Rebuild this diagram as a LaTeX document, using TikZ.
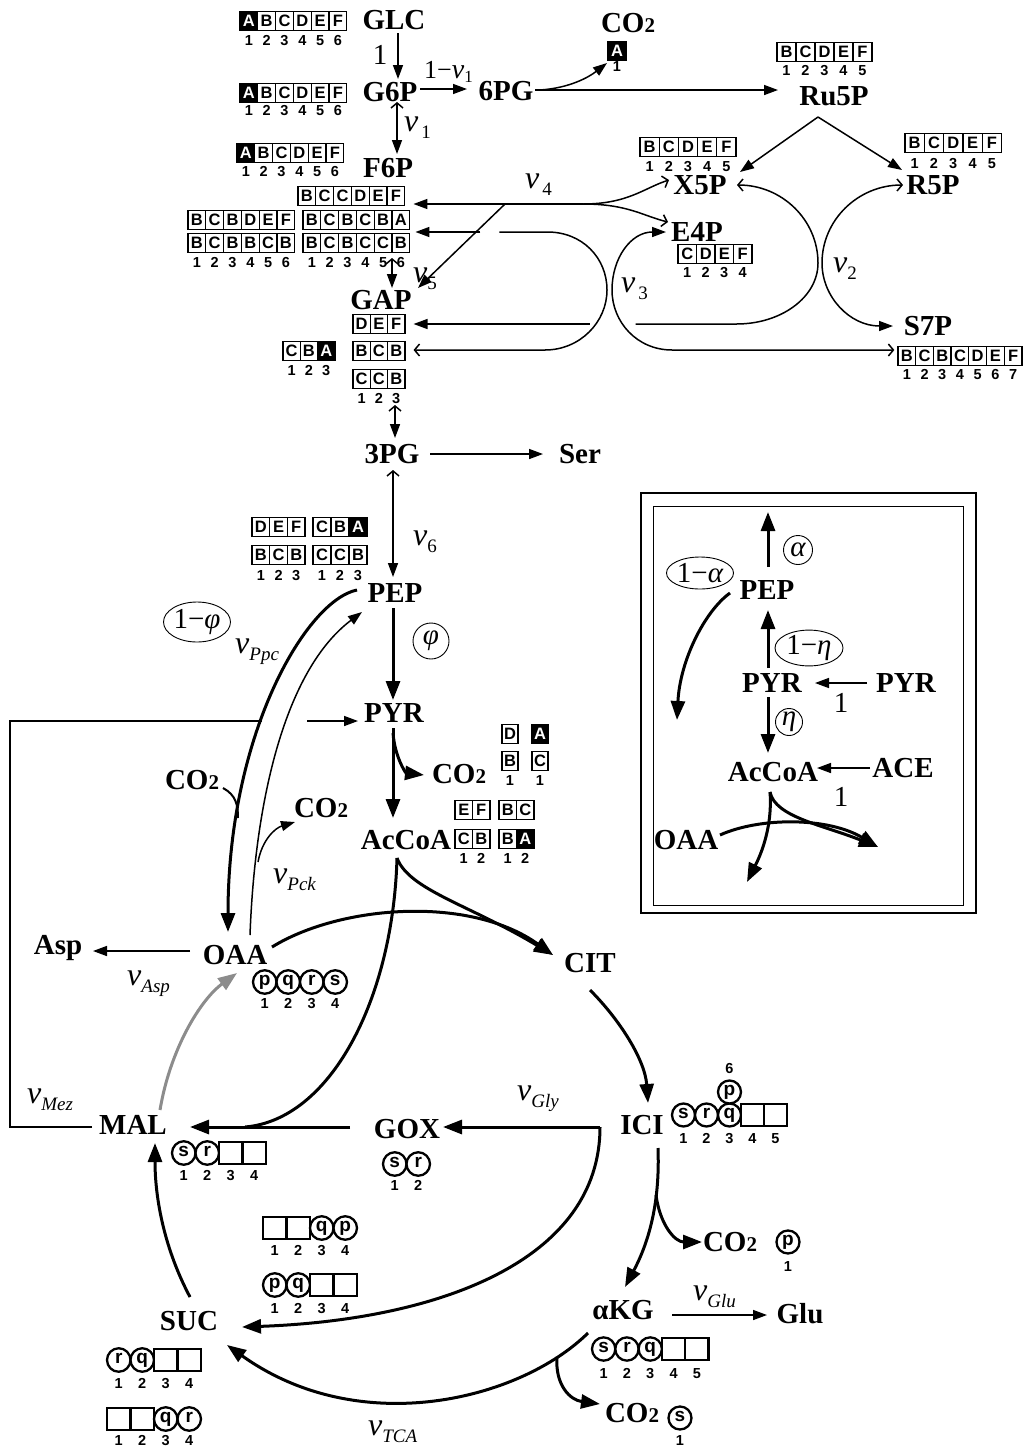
\documentclass[tikz,border=0pt]{standalone}
\usepackage{fontspec}
\setmainfont{Liberation Serif}
\setsansfont{Liberation Sans}
\usetikzlibrary{arrows.meta,shapes.geometric,calc}
\definecolor{mygray}{RGB}{140,140,140}
\newcommand\metf{\fontsize{29}{29}\selectfont\bfseries}
\newcommand\cellf{\fontsize{16.5}{16.5}\selectfont\sffamily\bfseries}
\newcommand\numf{\fontsize{14.5}{14.5}\selectfont\sffamily\bfseries}
\newcommand\circf{\fontsize{19}{19}\selectfont\sffamily\bfseries}
\newcommand\labf{\fontsize{29}{29}\selectfont}
\newcommand\vlab[1]{{\fontsize{32}{32}\selectfont\itshape v}{\fontsize{19}{19}\selectfont\raisebox{-7pt}{#1}}}
\newcommand\vlabs[1]{{\fontsize{28}{28}\selectfont\itshape v}{\fontsize{17}{17}\selectfont\raisebox{-4pt}{#1}}}
\newcommand\cotwo{CO{\fontsize{21}{21}\selectfont 2}}
\newcommand\cellrow[5]{\foreach \ty/\lb [count=\i] in {#5}{\edef\tmp{\noexpand\node[c\ty,minimum width=#4pt] (#1-\i) at ({#2+(\i-0.5)*#4},#3)}\tmp{\lb};}}
\newcommand\numrow[5]{\foreach \lb [count=\i] in {#5}{\node[num] (#1-n\i) at ({#2+(\i-0.5)*#4},#3) {\lb};}}
\begin{document}
\begin{tikzpicture}[x=1pt,y=-1pt,
  met/.style={font=\metf,inner sep=0pt},
  lab/.style={font=\labf,inner sep=0pt},
  vl/.style={inner sep=0pt,anchor=base west},
  num/.style={font=\numf,inner sep=0pt,text height=10.4pt,text depth=0pt},
  cw/.style={draw,line width=1.3pt,minimum height=18.5pt,inner sep=0pt,font=\cellf,fill=white,text height=11.8pt,text depth=0pt},
  ck/.style={cw,fill=black,text=white},
  cc/.style={draw,circle,line width=2.3pt,minimum height=21pt,inner sep=0pt,font=\circf,fill=white,text height=10pt,text depth=4pt},
  ce/.style={draw,line width=2.3pt,minimum height=22pt,inner sep=0pt,fill=white},
  ln/.style={line width=1.5pt},
  tk/.style={line width=3pt},
  fa/.style={-{Triangle[length=14pt,width=10pt]}},
  fA/.style={-{Triangle[length=19pt,width=14pt]}},
  oa/.style={-{Straight Barb[length=5pt,width=12pt]}},
  ofa/.style={{Straight Barb[length=5pt,width=12pt]}-{Triangle[length=14pt,width=10pt]}},
  greek/.style={font=\fontsize{29}{29}\selectfont\itshape,draw,line width=0.9pt,inner sep=0pt},
]
\fill[white] (0,0) rectangle (1026,1446);
\useasboundingbox (0,0) rectangle (1026,1446);

% ---------- metabolites
\node[met] (GLC) at (394,20) {GLC};
\node[met] (G6P) at (390,92) {G6P};
\node[met] (n6PG) at (506,91) {6PG};
\node[met] (F6P) at (388,168) {F6P};
\node[met] (CO2t) at (628,23) {\cotwo};
\node[met] (Ru5P) at (834,96) {Ru5P};
\node[met] (X5P) at (700,185) {X5P};
\node[met] (R5P) at (933,185) {R5P};
\node[met] (E4P) at (697,232) {E4P};
\node[met] (S7P) at (928,326) {S7P};
\node[met] (GAP) at (381,300) {GAP};
\node[met] (n3PG) at (392,454) {3PG};
\node[met] (Ser) at (580,454) {Ser};
\node[met] (PEP) at (395,593) {PEP};
\node[met] (PYR) at (394,713) {PYR};
\node[met] (CO2p) at (459,774) {\cotwo};
\node[met] (AcCoA) at (406,840) {AcCoA};
\node[met] (CO2l) at (192,780) {\cotwo};
\node[met] (CO2r) at (321,808) {\cotwo};
\node[met] (OAA) at (235,955) {OAA};
\node[met] (Asp) at (58,948) {Asp};
\node[met] (CIT) at (590,963) {CIT};
\node[met] (MAL) at (133,1125) {MAL};
\node[met] (GOX) at (407,1129) {GOX};
\node[met] (ICI) at (642,1125) {ICI};
\node[met] (CO2i) at (730,1242) {\cotwo};
\node[met] (aKG) at (623,1310) {αKG};
\node[met] (Glu) at (800,1314) {Glu};
\node[met] (CO2k) at (632,1413) {\cotwo};
\node[met] (SUC) at (189,1321) {SUC};

% inset
\draw[line width=1.6pt] (641,493) rectangle (976,913);
\draw[line width=1pt] (653,506) rectangle (963,905);
\node[met] (iPEP) at (767,590) {PEP};
\node[met] (iPYR) at (772,683) {PYR};
\node[met] (iPYR2) at (906,683) {PYR};
\node[met] (iAcCoA) at (773,772) {AcCoA};
\node[met] (iACE) at (903,768) {ACE};
\node[met] (iOAA) at (686,840) {OAA};

% ---------- carbon labels
\cellrow{rGLC}{240}{21}{17.8}{k/A,w/B,w/C,w/D,w/E,w/F}
\numrow{rGLC}{240}{40}{17.8}{1,2,3,4,5,6}
\cellrow{rG6P}{240}{93}{17.8}{k/A,w/B,w/C,w/D,w/E,w/F}
\numrow{rG6P}{240}{110}{17.8}{1,2,3,4,5,6}
\cellrow{rF6P}{237}{153}{17.8}{k/A,w/B,w/C,w/D,w/E,w/F}
\numrow{rF6P}{237}{171}{17.8}{1,2,3,4,5,6}
\cellrow{rA}{298}{196}{17.8}{w/B,w/C,w/C,w/D,w/E,w/F}
\cellrow{rB1}{188}{220}{17.8}{w/B,w/C,w/B,w/D,w/E,w/F}
\cellrow{rB2}{303}{220}{17.8}{w/B,w/C,w/B,w/C,w/B,w/A}
\cellrow{rC1}{188}{243}{17.8}{w/B,w/C,w/B,w/B,w/C,w/B}
\cellrow{rC2}{303}{243}{17.8}{w/B,w/C,w/B,w/C,w/C,w/B}
\numrow{rC1}{188}{262}{17.8}{1,2,3,4,5,6}
\numrow{rC2}{303}{262}{17.8}{1,2,3,4,5,6}
\cellrow{rCO}{608}{51}{18}{k/A}
\numrow{rCO}{608}{66}{18}{1}
\cellrow{rRu}{777}{52}{19}{w/B,w/C,w/D,w/E,w/F}
\numrow{rRu}{777}{70}{19}{1,2,3,4,5}
\cellrow{rX}{640}{147}{19.2}{w/B,w/C,w/D,w/E,w/F}
\numrow{rX}{640}{166}{19.2}{1,2,3,4,5}
\cellrow{rR}{905}{143}{19.3}{w/B,w/C,w/D,w/E,w/F}
\numrow{rR}{905}{163}{19.3}{1,2,3,4,5}
\cellrow{rE}{678}{254}{18.5}{w/C,w/D,w/E,w/F}
\numrow{rE}{678}{272}{18.5}{1,2,3,4}
\cellrow{rS}{898}{356}{17.7}{w/B,w/C,w/B,w/C,w/D,w/E,w/F}
\numrow{rS}{898}{374}{17.7}{1,2,3,4,5,6,7}
\cellrow{rG1}{353}{324}{17.3}{w/D,w/E,w/F}
\cellrow{rG2}{353}{351}{17.3}{w/B,w/C,w/B}
\cellrow{rG3}{353}{379}{17.3}{w/C,w/C,w/B}
\numrow{rG3}{353}{398}{17.3}{1,2,3}
\cellrow{rG4}{283}{351}{17.3}{w/C,w/B,k/A}
\numrow{rG4}{283}{370}{17.3}{1,2,3}
\cellrow{rP1}{252}{527}{17.7}{w/D,w/E,w/F}
\cellrow{rP2}{313}{527}{18}{w/C,w/B,k/A}
\cellrow{rP3}{252}{555}{17.7}{w/B,w/C,w/B}
\cellrow{rP4}{313}{555}{18}{w/C,w/C,w/B}
\numrow{rP3}{252}{575}{17.7}{1,2,3}
\numrow{rP4}{313}{575}{18}{1,2,3}
\cellrow{rY1}{502}{734}{16}{w/D}
\cellrow{rY2}{532}{734}{16}{k/A}
\cellrow{rY3}{502}{761}{16}{w/B}
\cellrow{rY4}{532}{761}{16}{w/C}
\numrow{rY3}{502}{780}{16}{1}
\numrow{rY4}{532}{780}{16}{1}
\cellrow{rAc1}{455}{810}{17.5}{w/E,w/F}
\cellrow{rAc2}{499}{810}{17.5}{w/B,w/C}
\cellrow{rAc3}{455}{839}{17.5}{w/C,w/B}
\cellrow{rAc4}{499}{839}{17.5}{w/B,k/A}
\numrow{rAc3}{455}{858}{17.5}{1,2}
\numrow{rAc4}{499}{858}{17.5}{1,2}
% TCA labels
\cellrow{rO}{253}{982}{23.5}{c/p,c/q,c/r,c/s}
\numrow{rO}{253}{1003}{23.5}{1,2,3,4}
\cellrow{rM}{172}{1153}{23.5}{c/s,c/r,e/{},e/{}}
\numrow{rM}{172}{1175}{23.5}{1,2,3,4}
\cellrow{rGx}{383}{1164}{23.5}{c/s,c/r}
\numrow{rGx}{383}{1185}{23.5}{1,2}
\cellrow{rI}{672}{1115}{23}{c/s,c/r,c/q,e/{},e/{}}
\numrow{rI}{672}{1138}{23}{1,2,3,4,5}
\node[cc,minimum width=23pt] (rIp) at ($(rI-3)+(0,-23)$) {p};
\node[num] (rI6) at ($(rI-3)+(0,-47)$) {6};
\node[cc,minimum width=23pt] (cip) at ($(CO2i)+(58,0)$) {p};
\node[num] (cip1) at ($(CO2i)+(58,24)$) {1};
\cellrow{rK}{592}{1349}{23.3}{c/s,c/r,c/q,e/{},e/{}}
\numrow{rK}{592}{1373}{23.3}{1,2,3,4,5}
\node[cc,minimum width=23pt] (cks) at ($(CO2k)+(48,5)$) {s};
\node[num] (cks1) at ($(CO2k)+(48,27)$) {1};
\cellrow{rS1}{263}{1228}{23.5}{e/{},e/{},c/q,c/p}
\numrow{rS1}{263}{1250}{23.5}{1,2,3,4}
\cellrow{rS2}{263}{1285}{23.5}{c/p,c/q,e/{},e/{}}
\numrow{rS2}{263}{1308}{23.5}{1,2,3,4}
\cellrow{rU1}{107}{1360}{23.5}{c/r,c/q,e/{},e/{}}
\numrow{rU1}{107}{1383}{23.5}{1,2,3,4}
\cellrow{rU2}{107}{1419}{23.5}{e/{},e/{},c/q,c/r}
\numrow{rU2}{107}{1440}{23.5}{1,2,3,4}

% ---------- junctions
\coordinate (v4j) at ($(X5P)+(-117,19)$);
\coordinate (v4d) at ($(X5P)+(-195,19)$);
\coordinate (acj) at ($(AcCoA)+(-9,18)$);
\coordinate (icij) at ($(ICI)+(-42,2)$);
\coordinate (iacj) at ($(iAcCoA)+(-3,20)$);

% ---------- upper pathway
\draw[ln,fa] ($(GLC)+(4,13)$) -- ($(G6P)+(8,-13)$);
\draw[ln,fa] ($(G6P)+(30,-3)$) -- ($(n6PG)+(-39,-2)$);
\draw[ln,fa] ($(n6PG)+(29,-1)$) -- ($(Ru5P)+(-56,-6)$);
\draw[ln,fa] ($(n6PG)+(34,-1)$) .. controls +(30,-2) and +(-18,14) .. ($(rCO-1)+(-10,12)$);
\draw[ln,ofa] ($(G6P)+(7,10)$) -- ($(F6P)+(9,-14)$);
\draw[ln,fa] ($(Ru5P)+(-16,21)$) -- ($(X5P)+(40,-13)$);
\draw[ln,fa] ($(Ru5P)+(-16,21)$) -- ($(R5P)+(-31,-15)$);
\draw[ln,fa] (v4j) -- ($(rA-6.east)+(8,8)$);
\draw[ln,oa] (v4j) .. controls +(45,0) and +(-25,8) .. ($(X5P)+(-31,-5)$);
\draw[ln,oa] (v4j) .. controls +(45,0) and +(-25,-6) .. ($(E4P)+(-29,-10)$);
\draw[ln,fa] (v4d) -- ($(GAP)+(37,-12)$);
\draw[ln,fa] ($(rB2-6.east)+(70,12)$) -- ($(rB2-6.east)+(5,12)$);
\draw[ln,fa] ($(rG1-3.east)+(184,0)$) -- ($(rG1-3.east)+(8,0)$);
\draw[ln,oa] ($(rG1-3.east)+(230,0)$) -- ++(101,0) .. controls +(45,0) and +(0,34) .. (818,263) .. controls +(0,-43) and +(45,0) .. ($(X5P)+(37,0)$);
\draw[ln,ofa] ($(R5P)+(-30,0)$) .. controls +(-45,0) and +(0,-43) .. (822,263) .. controls +(0,34) and +(-43,0) .. ($(S7P)+(-35,0)$);
\draw[ln,oa] ($(rB2-6.east)+(89,12)$) -- ++(48,0) .. controls +(35,0) and +(0,-32) .. (607,290) .. controls +(0,32) and +(35,0) .. (545,350) -- ($(rG2-3.east)+(8,-1)$);
\draw[ln,ofa] ($(rS-1.west)+(-3,-6)$) -- (672,350) .. controls +(-35,0) and +(0,32) .. (612,290) .. controls +(0,-32) and +(-35,0) .. ($(E4P)+(-31,0)$);
\draw[ln,ofa] ($(GAP)+(11,-42)$) -- ($(GAP)+(11,-12)$);
\draw[ln,ofa] ($(n3PG)+(3,-49)$) -- ($(n3PG)+(3,-16)$);
\draw[ln,fa] ($(n3PG)+(38,0)$) -- ($(Ser)+(-37,0)$);
\draw[ln,ofa] ($(n3PG)+(1,16)$) -- ($(PEP)+(-2,-16)$);

% ---------- lower pathway
\draw[tk,fA] ($(PEP)+(-2,15)$) -- ($(PYR)+(-1,-13)$);
\draw[tk,fA] ($(PYR)+(-1,15)$) -- ($(AcCoA)+(-13,-22)$);
\draw[tk,fA] ($(PYR)+(-1,20)$) .. controls +(2,25) and +(-18,-2) .. ($(CO2p)+(-35,1)$);
\draw[ln] ($(MAL)+(-41,2)$) -- ++(-82,0) |- ($(PYR)+(-132,8)$);
\draw[ln,fa] ($(PYR)+(-87,8)$) -- ($(PYR)+(-36,8)$);
\draw[tk,fA] ($(PEP)+(-38,-3)$) .. controls +(-50,10) and +(0,-200) .. ($(OAA)+(-7,-23)$);
\draw[line width=2pt] ($(CO2l)+(31,8)$) .. controls +(13,7) and +(0,-13) .. ($(CO2l)+(46,38)$);
\draw[ln,fa] ($(OAA)+(15,-20)$) .. controls +(5,-135) and +(-77,58) .. ($(PEP)+(-33,19)$);
\draw[ln,fa] ($(OAA)+(23,-93)$) .. controls +(4,-22) and +(-20,6) .. ($(CO2r)+(-26,14)$);
\draw[ln,fa] ($(OAA)+(-45,-4)$) -- ($(Asp)+(35,3)$);
\draw[tk,fA] ($(GOX)+(-57,-2)$) -- ($(MAL)+(57,2)$);
\draw[tk] (acj) .. controls +(-4,142) and +(85,-7) .. ($(MAL)+(112,2)$);
\draw[tk,fA] ($(OAA)+(37,-8)$) .. controls +(68,-42) and +(-83,-60) .. ($(CIT)+(-37,-8)$);
\draw[tk,fA] (acj) .. controls +(12,32) and +(-83,-50) .. ($(CIT)+(-37,-8)$);
\draw[tk,fA,mygray] ($(MAL)+(27,-15)$) .. controls +(10,-60) and +(-37,27) .. ($(OAA)+(2,18)$);
\draw[tk,fA] ($(CIT)+(0,27)$) .. controls +(30,30) and +(-3,-43) .. ($(ICI)+(6,-22)$);
\draw[tk,fA] (icij) -- ($(GOX)+(36,-2)$);
\draw[tk,fA] (icij) .. controls +(0,133) and +(198,-7) .. ($(SUC)+(53,6)$);
\draw[tk,fA] ($(ICI)+(16,23)$) .. controls +(2,52) and +(25,-47) .. ($(aKG)+(2,-23)$);
\draw[tk,fA] ($(ICI)+(14,70)$) .. controls +(4,30) and +(-27,0) .. ($(CO2i)+(-28,0)$);
\draw[ln,fa] ($(aKG)+(49,5)$) -- ($(Glu)+(-33,1)$);
\draw[tk,fA] ($(aKG)+(-35,23)$) .. controls +(-68,67) and +(133,95) .. ($(SUC)+(38,24)$);
\draw[tk,fA] ($(aKG)+(-66,47)$) .. controls +(-2,28) and +(-30,-4) .. ($(CO2k)+(-32,-9)$);
\draw[tk,fA] ($(SUC)+(1,-24)$) .. controls +(-25,-47) and +(0,57) .. ($(MAL)+(22,18)$);

% ---------- inset edges
\draw[tk,fA] ($(iPEP)+(1,-23)$) -- ($(iPEP)+(1,-78)$);
\draw[tk,fA] ($(iPEP)+(-37,3)$) .. controls +(-25,18) and +(3,-60) .. ($(iPEP)+(-90,130)$);
\draw[tk,fA] ($(iPYR)+(-4,-15)$) -- ($(iPEP)+(1,20)$);
\draw[ln,fa] ($(iPYR2)+(-39,0)$) -- ($(iPYR)+(43,0)$);
\draw[tk,fA] ($(iPYR)+(-4,14)$) -- ($(iAcCoA)+(-5,-19)$);
\draw[ln,fa] ($(iACE)+(-33,0)$) -- ($(iAcCoA)+(44,-4)$);
\draw[tk,fA] (iacj) .. controls +(3,40) and +(10,-20) .. ($(iAcCoA)+(-26,110)$);
\draw[tk,fA] (iacj) .. controls +(5,25) and +(-55,-22) .. ($(iAcCoA)+(105,75)$);
\draw[tk,fA] ($(iOAA)+(34,-5)$) .. controls +(40,-18) and +(-50,-30) .. ($(iAcCoA)+(105,75)$);

% ---------- labels
\node[lab] (one1) at (380,55) {1};
\node[vl] (l1mv1) at (424,78) {{\fontsize{26}{26}\selectfont 1−}\vlabs{1}};
\node[vl] (lv1) at (404,131) {\vlab{\kern3pt 1}};
\node[vl] (lv4) at (525,188) {\vlab{\kern3pt 4}};
\node[vl] (lv5) at (413,282) {\vlab{5}};
\node[vl] (lv3) at (621,292) {\vlab{\kern3pt 3}};
\node[vl] (lv2) at (833,272) {\vlab{2}};
\node[vl] (lv6) at (413,545) {\vlab{6}};
\node[vl] (lvPpc) at (235,653) {\vlab{\itshape Ppc}};
\node[vl] (lvPck) at (273,883) {\vlab{\itshape Pck}};
\node[vl] (lvAsp) at (127,985) {\vlab{\itshape Asp}};
\node[vl] (lvMez) at (27,1103) {\vlab{\itshape Mez}};
\node[vl] (lvGly) at (517,1100) {\vlab{\itshape Gly}};
\node[vl] (lvGlu) at (693,1300) {\vlab{\itshape Glu}};
\node[vl] (lvTCA) at (368,1435) {\vlab{\itshape TCA}};
\node[greek,ellipse,minimum width=67pt,minimum height=40pt] (e1phi) at (197,622) {\upshape 1−\itshape φ};
\node[greek,circle,minimum size=36pt] (cphi) at (431,641) {φ};
\node[greek,circle,minimum size=29pt] (calpha) at (798,550) {α};
\node[greek,ellipse,minimum width=67pt,minimum height=32pt] (e1a) at (700,573) {\upshape 1−\itshape α};
\node[greek,ellipse,minimum width=68pt,minimum height=30pt] (e1eta) at (809,648) {\upshape 1−\itshape η};
\node[greek,circle,minimum size=27pt] (ceta) at (789,722) {η};
\node[lab] (i1a) at (841,703) {1};
\node[lab] (i1b) at (841,797) {1};
\end{tikzpicture}
\end{document}
